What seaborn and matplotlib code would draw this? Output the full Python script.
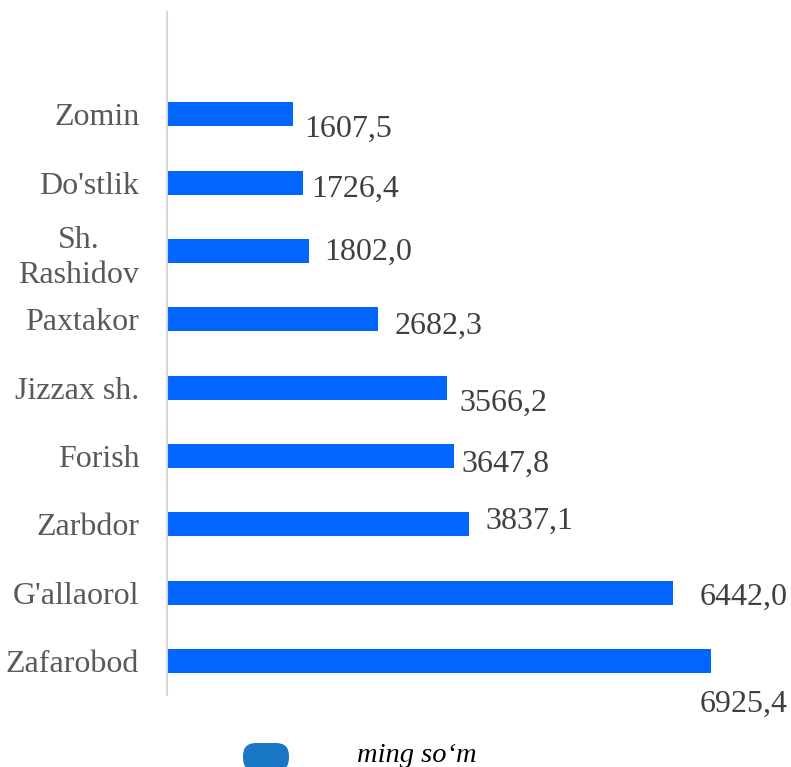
import matplotlib
matplotlib.use("Agg")
import matplotlib.pyplot as plt
import seaborn as sns
import pandas as pd
from matplotlib.patches import FancyBboxPatch
from matplotlib.transforms import IdentityTransform

# ---- data ----
categories = ["Zomin", "Do'stlik", "Sh.\nRashidov", "Paxtakor", "Jizzax sh.",
              "Forish", "Zarbdor", "G'allaorol", "Zafarobod"]
values = [1607.5, 1726.4, 1802.0, 2682.3, 3566.2, 3647.8, 3837.1, 6442.0, 6925.4]
legend_label = "ming so\u2018m"

# label placement offsets (pixels): dx from bar end, dy of baseline below bar centre
label_dx = [11, 9, 16, 17, 12, 8, 17, 26, -12]
label_dy = [22.6, 14, 9, 14, 23, 16, 4.5, 12.7, 50.7]

df = pd.DataFrame({"cat": categories, "val": values})

sns.set_theme(style="white")
plt.rcParams["font.family"] = ["Liberation Serif", "DejaVu Serif"]

W, H, DPI = 791, 767, 100
fig = plt.figure(figsize=(W / DPI, H / DPI), dpi=DPI)
ax = fig.add_axes([167 / W, 72 / H, 613 / W, 683 / H])

bar_color = "#0066FF"
sns.barplot(data=df, y="cat", x="val", orient="h", color=bar_color,
            width=0.352, saturation=1, linewidth=0, ax=ax)

ax.set_xlim(0, 7800)
ax.set_ylim(8.5, -1.5)
ax.set_xlabel("")
ax.set_ylabel("")
ax.set_xticks([])
for s in ["top", "right", "bottom"]:
    ax.spines[s].set_visible(False)
ax.spines["left"].set_color("#d9d9d9")
ax.spines["left"].set_linewidth(1.5)
ax.tick_params(axis="y", length=0, pad=20, labelsize=23, labelcolor="#595959")
for lbl in ax.get_yticklabels():
    lbl.set_multialignment("center")
    lbl.set_linespacing(1.3)

# value labels
for i, (v, dx, dy) in enumerate(zip(values, label_dx, label_dy)):
    txt = f"{v:.1f}".replace(".", ",")
    ax.annotate(txt, xy=(v, i), xytext=(dx, -dy), textcoords="offset pixels",
                ha="left", va="baseline", fontsize=23, color="#404040",
                annotation_clip=False)

# legend (custom rounded swatch + italic text)
patch = FancyBboxPatch((243, -4), 46, 28,
                       boxstyle="round,pad=0,rounding_size=13",
                       transform=IdentityTransform(), facecolor="#1877C5",
                       edgecolor="none")
fig.patches.append(patch)
fig.text(357 / W, 5 / H, legend_label, fontsize=20.5, style="italic",
         color="black", ha="left", va="baseline")

fig.savefig("out.png", dpi=DPI)
